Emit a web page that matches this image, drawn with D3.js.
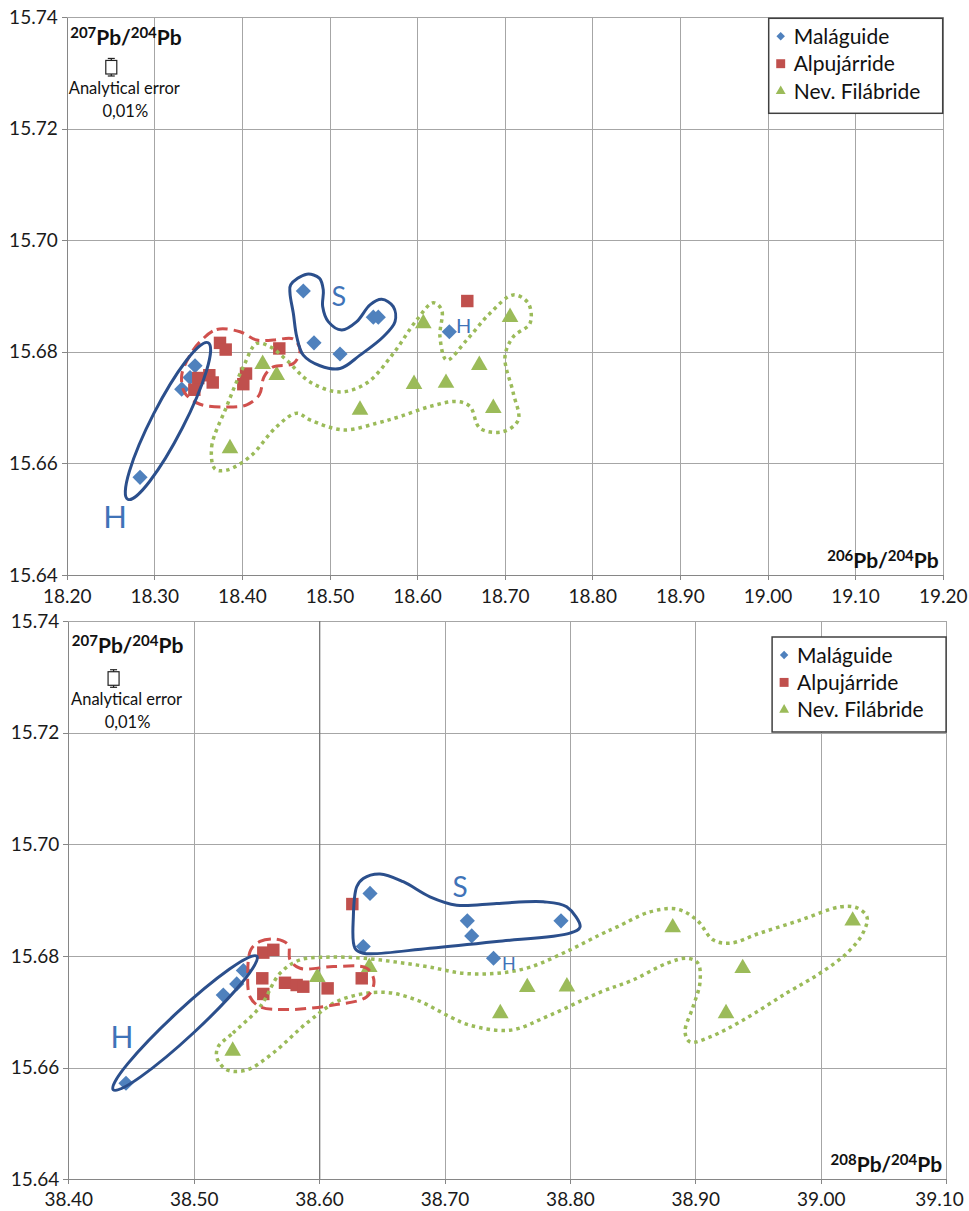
<!DOCTYPE html>
<html>
<head>
<meta charset="utf-8">
<script src="https://cdn.jsdelivr.net/npm/d3@7"></script>
<style>
body { margin: 0; background: #fff; }
svg { display: block; font-family: Lato, "Liberation Sans", sans-serif; }
.grid line { stroke: #a6a6a6; stroke-width: 1; shape-rendering: crispEdges; }
.grid path { display: none; }
.axis path, .axis line { stroke: #868686; shape-rendering: crispEdges; }
.axis text { font-size: 19px; fill: #1a1a1a; font-family: Lato, "Liberation Sans", sans-serif; }
</style>
</head>
<body>
<svg id="chart" width="969" height="1211"></svg>
<script>
// tick values
const Y_TICKS = [15.64, 15.66, 15.68, 15.70, 15.72, 15.74];
const X206_TICKS = [18.20, 18.30, 18.40, 18.50, 18.60, 18.70, 18.80, 18.90, 19.00, 19.10, 19.20];
const X208_TICKS = [38.40, 38.50, 38.60, 38.70, 38.80, 38.90, 39.00, 39.10];

const SERIES_NAMES = ["Maláguide", "Alpujárride", "Nev. Filábride"];
const SERIES_COLORS = ["#4f81bd", "#c0504d", "#9bbb59"];

// 206Pb/204Pb vs 207Pb/204Pb (top)
const malaguide_206 = [18.2837, 18.3313, 18.3408, 18.3465, 18.4701, 18.4823, 18.5120, 18.5500, 18.5557, 18.6368];
const malaguide_207a = [15.6575, 15.6733, 15.6754, 15.6775, 15.6909, 15.6816, 15.6796, 15.6862, 15.6862, 15.6836];
const alpujarride_206 = [18.3750, 18.3815, 18.4427, 18.3502, 18.3628, 18.3667, 18.3457, 18.4047, 18.4016, 18.6573];
const alpujarride_207a = [15.6816, 15.6804, 15.6806, 15.6753, 15.6758, 15.6745, 15.6732, 15.6761, 15.6742, 15.6891];
const filabride_206 = [18.4237, 18.4397, 18.3864, 18.5348, 18.5965, 18.6330, 18.6071, 18.7061, 18.6710, 18.6870];
const filabride_207a = [15.6778, 15.6758, 15.6627, 15.6696, 15.6742, 15.6744, 15.6851, 15.6862, 15.6776, 15.6699];

// 208Pb/204Pb vs 207Pb/204Pb (bottom)
const malaguide_208 = [38.4460, 38.5236, 38.5343, 38.5396, 38.6406, 38.6352, 38.7391, 38.7182, 38.7929, 38.7217];
const malaguide_207b = [15.6572, 15.6730, 15.6750, 15.6774, 15.6912, 15.6817, 15.6796, 15.6863, 15.6863, 15.6836];
const alpujarride_208 = [38.6265, 38.5555, 38.5635, 38.5547, 38.5555, 38.5728, 38.5821, 38.5874, 38.6068, 38.6340];
const alpujarride_207b = [15.6893, 15.6806, 15.6811, 15.6760, 15.6732, 15.6752, 15.6748, 15.6745, 15.6742, 15.6760];
const filabride_208 = [38.5986, 38.6400, 38.5311, 38.7660, 38.7976, 38.8820, 39.0255, 38.9378, 38.9245, 38.7445];
const filabride_207b = [15.6762, 15.6780, 15.6630, 15.6744, 15.6745, 15.6851, 15.6863, 15.6778, 15.6697, 15.6697];

const ERROR_PCT = 0.01;

// hand drawn group outlines (data units)
const top_S = [[18.4557,15.6920],[18.4740,15.6939],[18.4884,15.6932],[18.4929,15.6911],[18.4922,15.6881],[18.4986,15.6854],
  [18.5139,15.6839],[18.5311,15.6854],[18.5462,15.6884],[18.5596,15.6894],[18.5728,15.6881],[18.5748,15.6854],[18.5614,15.6827],
  [18.5348,15.6794],[18.5120,15.6770],[18.4892,15.6775],[18.4701,15.6794],[18.4626,15.6827],[18.4587,15.6869],[18.4549,15.6905]];
const top_red = [[18.3522,15.6818],[18.3712,15.6840],[18.3978,15.6836],[18.4169,15.6821],[18.4358,15.6821],[18.4587,15.6823],
  [18.4663,15.6803],[18.4587,15.6779],[18.4358,15.6773],[18.4252,15.6755],[18.4199,15.6723],[18.4055,15.6705],[18.3826,15.6701],
  [18.3522,15.6706],[18.3350,15.6726],[18.3313,15.6758],[18.3408,15.6794]];
const top_green = [[18.3693,15.6590],[18.3655,15.6630],[18.3826,15.6702],[18.4016,15.6773],[18.4169,15.6815],[18.4321,15.6809],
  [18.4511,15.6785],[18.4777,15.6746],[18.5120,15.6728],[18.5425,15.6744],[18.5728,15.6797],[18.5995,15.6857],[18.6185,15.6888],
  [18.6281,15.6875],[18.6261,15.6827],[18.6338,15.6785],[18.6566,15.6821],[18.6832,15.6869],[18.7098,15.6902],[18.7269,15.6887],
  [18.7289,15.6851],[18.7098,15.6827],[18.7003,15.6791],[18.7098,15.6726],[18.7155,15.6678],[18.6984,15.6657],[18.6718,15.6663],
  [18.6604,15.6702],[18.6452,15.6711],[18.6147,15.6702],[18.5805,15.6684],[18.5539,15.6672],[18.5158,15.6660],[18.4777,15.6678],
  [18.4626,15.6690],[18.4397,15.6666],[18.4092,15.6612],[18.3826,15.6588]];
const bot_S = [[38.6352,15.6939],[38.6486,15.6947],[38.6671,15.6933],[38.6884,15.6906],[38.7097,15.6891],[38.7416,15.6894],
  [38.7788,15.6897],[38.7974,15.6888],[38.8081,15.6852],[38.8001,15.6841],[38.7416,15.6826],[38.6884,15.6814],[38.6352,15.6805],
  [38.6286,15.6814],[38.6273,15.6870],[38.6300,15.6924]];
const bot_red = [[38.5455,15.6811],[38.5529,15.6826],[38.5662,15.6830],[38.5754,15.6820],[38.5768,15.6793],[38.5848,15.6778],
  [38.6113,15.6781],[38.6380,15.6778],[38.6438,15.6754],[38.6380,15.6727],[38.6113,15.6712],[38.5742,15.6704],[38.5529,15.6709],
  [38.5449,15.6727],[38.5431,15.6769]];
const bot_green = [[38.5194,15.6637],[38.5313,15.6662],[38.5529,15.6709],[38.5688,15.6769],[38.5848,15.6793],[38.6087,15.6798],
  [38.6350,15.6796],[38.6621,15.6789],[38.6884,15.6780],[38.7148,15.6769],[38.7419,15.6769],[38.7682,15.6780],[38.8001,15.6811],
  [38.8240,15.6838],[38.8376,15.6852],[38.8639,15.6879],[38.8854,15.6884],[38.9014,15.6864],[38.9141,15.6829],[38.9277,15.6823],
  [38.9516,15.6841],[38.9835,15.6864],[39.0154,15.6888],[39.0290,15.6886],[39.0369,15.6870],[39.0337,15.6841],[39.0209,15.6805],
  [38.9994,15.6769],[38.9731,15.6734],[38.9380,15.6685],[38.9117,15.6655],[38.8958,15.6646],[38.8918,15.6664],[38.8982,15.6709],
  [38.9037,15.6752],[38.9021,15.6787],[38.8933,15.6796],[38.8774,15.6787],[38.8503,15.6757],[38.8240,15.6735],[38.7841,15.6694],
  [38.7522,15.6667],[38.7203,15.6676],[38.7044,15.6691],[38.6780,15.6721],[38.6510,15.6735],[38.6167,15.6721],[38.5903,15.6680],
  [38.5632,15.6626],[38.5425,15.6596],[38.5266,15.6596],[38.5186,15.6617]];

const svg = d3.select("#chart");
svg.append("rect").attr("width", 969).attr("height", 1211).attr("fill", "#fff");

function isoLabel(g, x, y, mass, anchor) {
  const t = g.append("text").attr("x", x).attr("y", y)
    .attr("font-weight", "bold").attr("fill", "#111").attr("text-anchor", anchor);
  t.append("tspan").attr("font-size", 15).attr("dy", -7).text(mass);
  t.append("tspan").attr("font-size", 21).attr("dy", 7).text("Pb/");
  t.append("tspan").attr("font-size", 15).attr("dy", -7).text("204");
  t.append("tspan").attr("font-size", 21).attr("dy", 7).text("Pb");
}

function drawPanel(p) {
  const g = svg.append("g").attr("transform", "translate(" + p.left + "," + p.top + ")");
  const x = d3.scaleLinear().domain(d3.extent(p.xTicks)).range([0, p.width]);
  const y = d3.scaleLinear().domain(d3.extent(Y_TICKS)).range([p.height, 0]);

  // grid
  g.append("g").attr("class", "grid").attr("transform", "translate(0," + p.height + ")")
    .call(d3.axisBottom(x).tickValues(p.xTicks).tickSize(-p.height).tickFormat(""));
  g.append("g").attr("class", "grid")
    .call(d3.axisLeft(y).tickValues(Y_TICKS).tickSize(-p.width).tickFormat(""));
  if (p.darkTick != null) {
    g.append("line").attr("x1", Math.round(x(p.darkTick)) + 0.5).attr("x2", Math.round(x(p.darkTick)) + 0.5)
      .attr("y1", 0).attr("y2", p.height).attr("stroke", "#6a6a6a");
  }

  // axes
  const xAxis = g.append("g").attr("class", "axis").attr("transform", "translate(0," + p.height + ")")
    .call(d3.axisBottom(x).tickValues(p.xTicks).tickSize(5).tickSizeOuter(0)
      .tickPadding(p.xPad).tickFormat(d3.format(".2f")));
  // keep the last label inside the picture
  xAxis.selectAll(".tick:last-of-type text").attr("dx", -(p.lastShift || 0));
  g.append("g").attr("class", "axis")
    .call(d3.axisLeft(y).tickValues(Y_TICKS).tickSize(5).tickSizeOuter(0)
      .tickPadding(4).tickFormat(d3.format(".2f")));

  // markers
  const shapes = [
    {sym: d3.symbol(d3.symbolSquare, 115), rot: 45},
    {sym: d3.symbol(d3.symbolSquare, 155), rot: 0},
    {sym: d3.symbol(d3.symbolTriangle, 120), rot: 0}
  ];
  p.series.forEach((s, i) => {
    g.append("g").selectAll("path")
      .data(d3.zip(s[0], s[1]))
      .join("path")
      .attr("transform", d => "translate(" + x(d[0]) + "," + y(d[1]) + ") rotate(" + shapes[i].rot + ")")
      .attr("d", shapes[i].sym)
      .attr("fill", SERIES_COLORS[i]);
  });

  // outlines
  const outline = d3.line().x(d => x(d[0])).y(d => y(d[1])).curve(d3.curveCatmullRomClosed.alpha(0.5));
  g.append("path").attr("d", outline(p.green)).attr("fill", "none")
    .attr("stroke", "#9bbb59").attr("stroke-width", 3.5).attr("stroke-dasharray", "3.5,4");
  g.append("path").attr("d", outline(p.red)).attr("fill", "none")
    .attr("stroke", "#d0504d").attr("stroke-width", 3).attr("stroke-dasharray", "11,6");
  g.append("path").attr("d", outline(p.S)).attr("fill", "none")
    .attr("stroke", "#2b4f8c").attr("stroke-width", 3);
  const e = p.ellipse;
  g.append("ellipse").attr("cx", x(e.c[0])).attr("cy", y(e.c[1])).attr("rx", e.rx).attr("ry", e.ry)
    .attr("transform", "rotate(" + e.angle + "," + x(e.c[0]) + "," + y(e.c[1]) + ")")
    .attr("fill", "none").attr("stroke", "#2b4f8c").attr("stroke-width", 3);

  // group letters
  p.letters.forEach(l => {
    g.append("text").attr("x", x(l.at[0])).attr("y", y(l.at[1])).attr("dy", "0.36em")
      .attr("text-anchor", "middle").attr("font-size", l.size).attr("fill", "#3f73b8").text(l.t);
  });

  // analytical error bar
  const ex = x(p.errAt[0]), ey = y(p.errAt[1]);
  const half = Math.abs(y(p.errAt[1] * (1 + ERROR_PCT / 100)) - ey);
  const eb = g.append("g").attr("stroke", "#222").attr("fill", "#fff").attr("stroke-width", 1.2);
  eb.append("line").attr("x1", ex).attr("x2", ex).attr("y1", ey - half).attr("y2", ey + half);
  eb.append("line").attr("x1", ex - 3.5).attr("x2", ex + 3.5).attr("y1", ey - half).attr("y2", ey - half);
  eb.append("line").attr("x1", ex - 3.5).attr("x2", ex + 3.5).attr("y1", ey + half).attr("y2", ey + half);
  eb.append("rect").attr("x", ex - 5.5).attr("y", ey - half + 2).attr("width", 11).attr("height", 2 * half - 4);
  g.append("text").attr("x", ex + 13).attr("y", ey + p.errText[0]).attr("text-anchor", "middle")
    .attr("font-size", 16.5).attr("fill", "#111").text("Analytical error");
  g.append("text").attr("x", ex + 14).attr("y", ey + p.errText[1]).attr("text-anchor", "middle")
    .attr("font-size", 16.5).attr("fill", "#111").text("0,01%");

  // axis titles
  isoLabel(g, 3.5, p.yTitleY, "207", "start");
  isoLabel(g, p.width - 4, p.height - 7, p.xMass, "end");

  // legend
  const lg = g.append("g").attr("transform", "translate(" + (p.width - 174) + "," + p.legendTop + ")");
  lg.append("rect").attr("width", 174).attr("height", 95).attr("fill", "#fff")
    .attr("stroke", "#404040").attr("stroke-width", 1.5);
  const legendSym = [
    {sym: d3.symbol(d3.symbolSquare, 36), rot: 45},
    {sym: d3.symbol(d3.symbolSquare, 80), rot: 0},
    {sym: d3.symbol(d3.symbolTriangle, 42), rot: 0}
  ];
  SERIES_NAMES.forEach((n, i) => {
    const cy = 18 + 27.4 * i;
    lg.append("path").attr("d", legendSym[i].sym)
      .attr("transform", "translate(12," + cy + ") rotate(" + legendSym[i].rot + ")")
      .attr("fill", SERIES_COLORS[i]);
    lg.append("text").attr("x", 25).attr("y", cy).attr("dy", "0.36em")
      .attr("font-size", 21).attr("fill", "#111").text(n);
  });
}

drawPanel({
  left: 66.7, top: 17, width: 876, height: 558,
  xTicks: X206_TICKS, xPad: 10, xMass: "206", yTitleY: 28,
  series: [[malaguide_206, malaguide_207a], [alpujarride_206, alpujarride_207a], [filabride_206, filabride_207a]],
  S: top_S, red: top_red, green: top_green,
  ellipse: {c: [18.3156, 15.6676], rx: 88, ry: 16, angle: -62.8},
  letters: [
    {t: "S", at: [18.5108, 15.6899], size: 27},
    {t: "H", at: [18.2552, 15.6504], size: 31},
    {t: "H", at: [18.6532, 15.6847], size: 20}
  ],
  errAt: [18.2509, 15.7310], errText: [27, 49.7],
  legendTop: 1.3
});

drawPanel({
  left: 68.3, top: 621, width: 877.8, height: 558.3,
  xTicks: X208_TICKS, xPad: 8.5, xMass: "208", yTitleY: 32.3, darkTick: 38.60, lastShift: 7,
  series: [[malaguide_208, malaguide_207b], [alpujarride_208, alpujarride_207b], [filabride_208, filabride_207b]],
  S: bot_S, red: bot_red, green: bot_green,
  ellipse: {c: [38.4931, 15.6680], rx: 98, ry: 13, angle: -42.9},
  letters: [
    {t: "S", at: [38.7124, 15.6924], size: 28},
    {t: "H", at: [38.4428, 15.6654], size: 30},
    {t: "H", at: [38.7514, 15.6786], size: 18}
  ],
  errAt: [38.4361, 15.7297], errText: [26.7, 49],
  legendTop: 16
});
</script>
</body>
</html>
